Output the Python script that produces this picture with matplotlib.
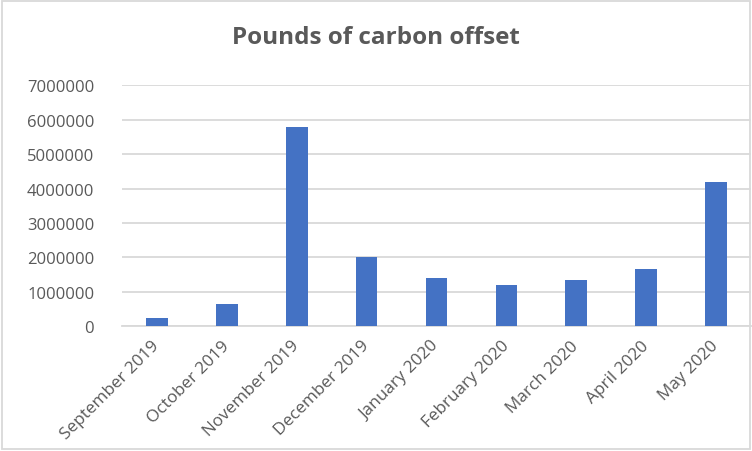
import matplotlib
matplotlib.use("Agg")
import matplotlib.pyplot as plt
from matplotlib.patches import Rectangle

months = ["September 2019", "October 2019", "November 2019", "December 2019",
          "January 2020", "February 2020", "March 2020", "April 2020", "May 2020"]
pounds = [250000, 650000, 5800000, 2000000, 1400000, 1200000, 1350000, 1660000, 4200000]
yticks = [0, 1000000, 2000000, 3000000, 4000000, 5000000, 6000000, 7000000]

plt.rcParams['font.family'] = ['Open Sans', 'DejaVu Sans']
text_color = "#595959"
grid_color = "#d9d9d9"

fig = plt.figure(figsize=(7.52, 4.52), dpi=100)
ax = fig.add_axes([122/752, 1 - 327.3/452, (751 - 122)/752, (327.3 - 86.3)/452])

x = list(range(len(months)))
ax.bar(x, pounds, width=0.31, color="#4472C4", zorder=3)

ax.set_xlim(-0.5, len(months) - 0.5)
ax.set_ylim(0, 7000000)
ax.set_yticks(yticks)
ax.set_yticklabels([str(v) for v in yticks], fontsize=12, color=text_color)
ax.yaxis.grid(True, color=grid_color, linewidth=1.3, zorder=0)
ax.set_axisbelow(True)
ax.tick_params(axis='y', length=0, pad=20)
ax.tick_params(axis='x', length=0, pad=12)
ax.set_xticks(x)
ax.set_xticklabels(months, rotation=45, ha='right', va='center', rotation_mode='anchor',
                   fontsize=12.3, color=text_color)
for s in ['top', 'right', 'left']:
    ax.spines[s].set_visible(False)
ax.spines['bottom'].set_color(grid_color)
ax.spines['bottom'].set_linewidth(1.3)

fig.text(376/752, 1 - 38/452, "Pounds of carbon offset", ha='center', va='center',
         fontsize=17.5, fontweight='bold', color=text_color)

fig.patches.append(Rectangle((2/752, 2/452), 748/752, 448/452, transform=fig.transFigure,
                             fill=False, edgecolor=grid_color, linewidth=1.3))

fig.savefig("out.png", dpi=100)
